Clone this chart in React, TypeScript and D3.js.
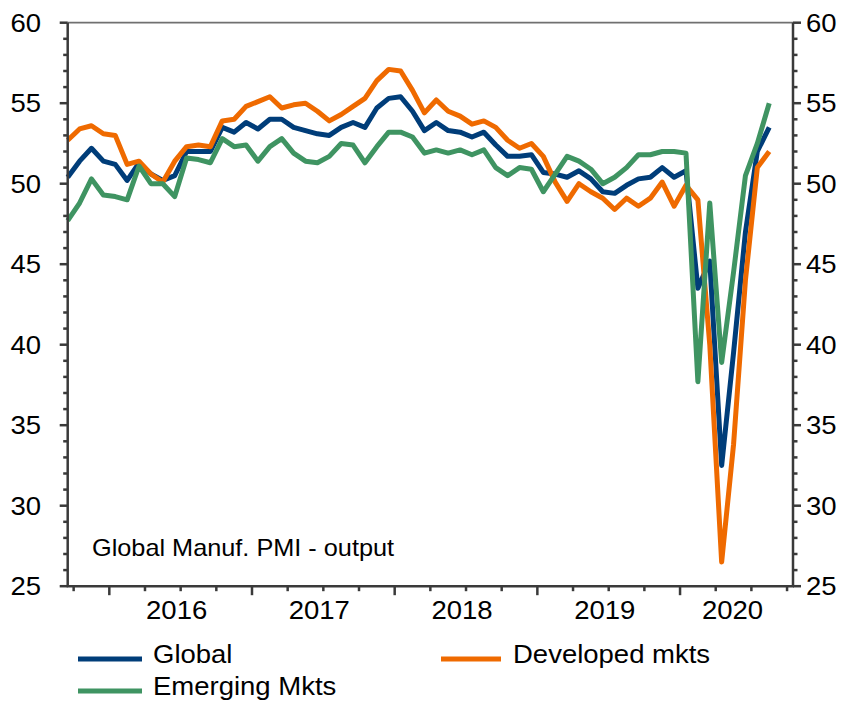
import React from "react";
import * as d3 from "d3";

// Monthly data, Sep 2015 .. Aug 2020
const startMonth = 8; // September (0-based)

const globalPMI = [
  50.4, 51.4, 52.2, 51.4, 51.2, 50.2, 51.3, 50.6, 50.2, 50.5, 52.0, 52.0,
  52.0, 53.5, 53.2, 53.8, 53.4, 54.0, 54.0, 53.5, 53.3, 53.1, 53.0, 53.5,
  53.8, 53.5, 54.7, 55.3, 55.4, 54.5, 53.3, 53.8, 53.3, 53.2, 52.9, 53.2,
  52.4, 51.7, 51.7, 51.8, 50.7, 50.6, 50.4, 50.8, 50.3, 49.5, 49.4, 49.9,
  50.3, 50.4, 51.0, 50.4, 50.8, 43.5, 45.2, 32.5, 39.5, 47.0, 52.0, 53.5,
];

const developedPMI = [
  52.7, 53.4, 53.6, 53.1, 53.0, 51.2, 51.4, 50.6, 50.1, 51.4, 52.3, 52.4,
  52.3, 53.9, 54.0, 54.8, 55.1, 55.4, 54.7, 54.9, 55.0, 54.5, 53.9, 54.3,
  54.8, 55.3, 56.4, 57.1, 57.0, 55.8, 54.4, 55.2, 54.5, 54.2, 53.7, 53.9,
  53.5, 52.7, 52.2, 52.5, 51.7, 50.1, 48.9, 50.0, 49.5, 49.1, 48.4, 49.1,
  48.6, 49.1, 50.1, 48.6, 49.9, 49.0, 40.0, 26.5, 33.8, 44.0, 51.0, 52.0,
];

const emergingPMI = [
  47.7, 48.8, 50.3, 49.3, 49.2, 49.0, 51.1, 50.0, 50.0, 49.2, 51.6, 51.5,
  51.3, 52.8, 52.3, 52.4, 51.4, 52.3, 52.8, 51.9, 51.4, 51.3, 51.7, 52.5,
  52.4, 51.3, 52.3, 53.2, 53.2, 52.9, 51.9, 52.1, 51.9, 52.1, 51.8, 52.1,
  51.0, 50.5, 51.0, 50.9, 49.5, 50.6, 51.7, 51.4, 50.9, 50.0, 50.4, 51.0,
  51.8, 51.8, 52.0, 52.0, 51.9, 37.7, 48.8, 38.9, 44.5, 50.5, 52.5, 55.0,
];

const yearLabels = ["2016", "2017", "2018", "2019", "2020"];
const yTicks = [25, 30, 35, 40, 45, 50, 55, 60];
const seriesNames = ["Global", "Developed mkts", "Emerging Mkts"];
const chartNote = "Global Manuf. PMI - output";

const COLORS = { global: "#003d79", developed: "#ef6a00", emerging: "#3f9462" };
const AXIS = "#3a3a3a";
const FONT = "Arial, 'Liberation Sans', Helvetica, sans-serif";
const STRETCH = 1.1;

function T(props: {
  x: number;
  y: number;
  size: number;
  anchor?: "start" | "middle" | "end";
  children: React.ReactNode;
}) {
  return (
    <text
      transform={`translate(${props.x},${props.y}) scale(${STRETCH},1)`}
      fontSize={props.size}
      textAnchor={props.anchor || "start"}
      fill="#000"
    >
      {props.children}
    </text>
  );
}

export default function App() {
  const W = 846;
  const H = 701;
  const left = 67.7;
  const right = 793;
  const top = 22.7;
  const bottom = 586.2;

  // month index domain: 0 = Sep 2015 (mid-month)
  const x = d3.scaleLinear().domain([0, 61]).range([left, right]);
  const y = d3.scaleLinear().domain([25, 60]).range([bottom, top]);

  const line = d3
    .line<number>()
    .x((_, i) => x(i))
    .y((v) => y(v));

  // quarter boundaries (month starts of Oct, Jan, Apr, Jul) => index k + 0.5
  const quarterTicks: { pos: number; major: boolean }[] = [];
  for (let t = 0.5; t <= 61; t += 3) {
    const monthIdx = (startMonth + Math.round(t + 0.5)) % 12;
    quarterTicks.push({ pos: t, major: monthIdx === 0 });
  }
  const yearStarts = quarterTicks.filter((q) => q.major).map((q) => q.pos);

  const minorY: number[] = d3.range(25, 60.001, 1);

  const series = [
    { name: seriesNames[0], data: globalPMI, color: COLORS.global },
    { name: seriesNames[1], data: developedPMI, color: COLORS.developed },
    { name: seriesNames[2], data: emergingPMI, color: COLORS.emerging },
  ];

  return (
    <svg
      width={W}
      height={H}
      style={{ position: "absolute", left: 0, top: 0, background: "#fff" }}
      fontFamily={FONT}
    >
      {/* top frame */}
      <line x1={left} x2={right} y1={top} y2={top} stroke="#707070" strokeWidth={1.8} />

      {/* data lines */}
      {series.map((s) => (
        <path
          key={s.name}
          d={line(s.data) || ""}
          fill="none"
          stroke={s.color}
          strokeWidth={5}
          strokeLinejoin="round"
        />
      ))}

      {/* left axis */}
      <line x1={left} x2={left} y1={top} y2={bottom} stroke={AXIS} strokeWidth={2.5} />
      {minorY.map((v) => {
        const major = v % 5 === 0;
        return (
          <line
            key={"ly" + v}
            x1={left}
            x2={left - (major ? 8 : 4.5)}
            y1={y(v)}
            y2={y(v)}
            stroke={AXIS}
            strokeWidth={2.5}
          />
        );
      })}
      {yTicks.map((v) => (
        <T key={"lt" + v} x={41} y={y(v) + 9} size={25} anchor="end">
          {v}
        </T>
      ))}

      {/* right axis */}
      <line x1={right} x2={right} y1={top} y2={bottom} stroke={AXIS} strokeWidth={2.5} />
      {minorY.map((v) => {
        const major = v % 5 === 0;
        return (
          <line
            key={"ry" + v}
            x1={right}
            x2={right + (major ? 8 : 4.5)}
            y1={y(v)}
            y2={y(v)}
            stroke={AXIS}
            strokeWidth={2.5}
          />
        );
      })}
      {yTicks.map((v) => (
        <T key={"rt" + v} x={806} y={y(v) + 9} size={25}>
          {v}
        </T>
      ))}

      {/* bottom axis */}
      <line x1={left - 1} x2={right + 1} y1={bottom} y2={bottom} stroke={AXIS} strokeWidth={2.5} />
      {quarterTicks.map((q) => (
        <line
          key={"xq" + q.pos}
          x1={x(q.pos)}
          x2={x(q.pos)}
          y1={bottom}
          y2={bottom + (q.major ? 9 : 5)}
          stroke={AXIS}
          strokeWidth={2.5}
        />
      ))}
      {yearLabels.map((lab, k) => {
        const s = yearStarts[k];
        const e = Math.min(s + 12, 61);
        return (
          <T key={lab} x={x((s + e) / 2) - 4} y={619} size={25} anchor="middle">
            {lab}
          </T>
        );
      })}

      {/* note */}
      <T x={92} y={556} size={23}>
        {chartNote}
      </T>

      {/* legend */}
      <line x1={78} x2={142} y1={659} y2={659} stroke={COLORS.global} strokeWidth={5} />
      <T x={153} y={662.5} size={25}>
        {seriesNames[0]}
      </T>
      <line x1={441} x2={501} y1={659} y2={659} stroke={COLORS.developed} strokeWidth={5} />
      <T x={513} y={662.5} size={25}>
        {seriesNames[1]}
      </T>
      <line x1={78} x2={142} y1={691} y2={691} stroke={COLORS.emerging} strokeWidth={5} />
      <T x={153} y={694.5} size={25}>
        {seriesNames[2]}
      </T>
    </svg>
  );
}
